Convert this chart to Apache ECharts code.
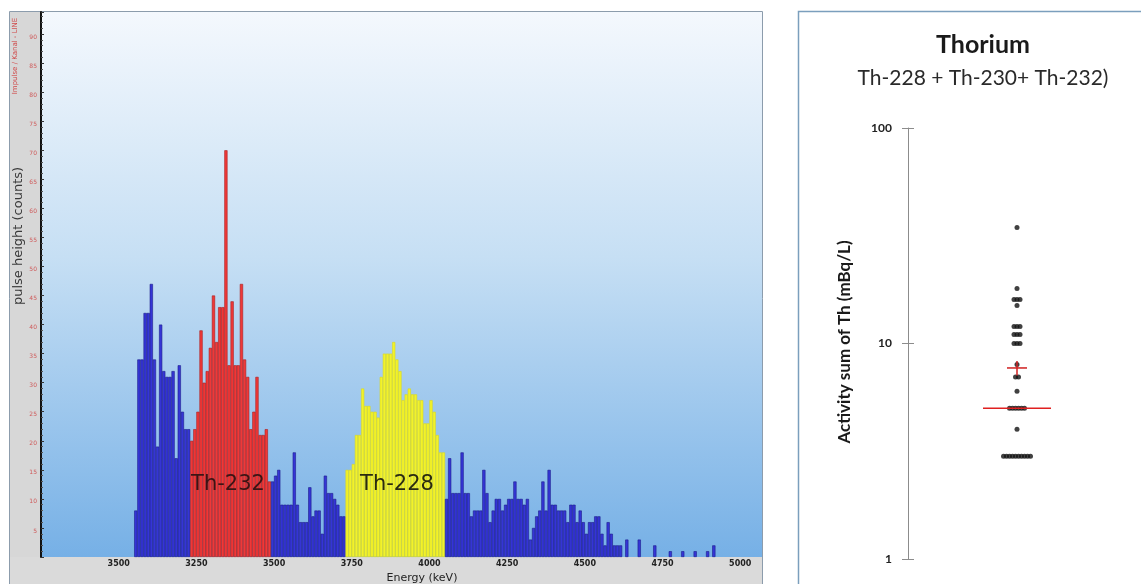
<!DOCTYPE html>
<html><head><meta charset="utf-8">
<script src="https://cdn.jsdelivr.net/npm/echarts@6/dist/echarts.min.js"></script>
<style>html,body{margin:0;padding:0;background:#fff}#c{width:1141px;height:584px}</style>
</head><body><div id="c"></div>
<script>
// ---------- data: alpha spectrum (counts per 10 keV bin) ----------
const spectrumStartKeV = 3050;
const binWidthKeV = 10;
const blueLowCounts = [8,34,34,42,42,47,34,19,40,32,31,31,32,17,33,25,22,22];
const th232Counts   = [20,22,25,39,30,32,36,45,37,43,43,70,33,44,33,33,47,34,31,22,25,31,21,21,22,13];
const blueMidCounts = [13,14,15,9,9,9,9,18,9,6,6,6,12,7,8,8,4,14,11,11,10,9,7,7];
const th228Counts   = [15,15,16,21,21,29,26,26,25,25,24,31,35,35,35,37,34,32,27,28,29,28,28,27,27,23,23,27,25,21,18,18];
const blueHighCounts = [10,17,11,11,11,18,11,11,7,8,8,8,15,11,6,8,10,10,8,9,10,10,13,10,10,9,10,3,5,7,8,13,8,15,9,9,8,8,8,6,9,9,6,8,6,4,6,6,7,7,4,2,6,4,2,2,2,
  0,3,0,0,0,3,0,0,0,0,2,0,0,0,0,1,0,0,0,1,0,0,0,1,0,0,0,1,0,2];
const xTickValues = [3000,3250,3500,3750,4000,4250,4500,4750,5000];
const xTickLabels = ['3500','3250','3500','3750','4000','4250','4500','4750','5000'];

// ---------- data: thorium activity (mBq/L) ----------
const thActivity = [34.5,18,16,16,16,15,12,12,12,11,11,11,10,10,10,8,7,7,6,5,5,5,5,5,5,4,3,3,3,3,3,3,3,3,3,3];
const thMedian = 5.0;
const thMean = 7.7;
const thMeanErrLow = 7.1;
const thMeanErrHigh = 8.3;
const logTickLabels = {1:'1', 10:'10', 100:'100'};

// ---------- build ----------
const blueStyle = {fill:'#3535d6', edge:'#1d1d8c'};
const regionStyles = [blueStyle, {fill:'#f03838', edge:'#a82020'}, blueStyle, {fill:'#f2f22a', edge:'#d6d624'}, blueStyle];
const regionCounts = [blueLowCounts, th232Counts, blueMidCounts, th228Counts, blueHighCounts];
const barData = [];
let k = 0;
regionCounts.forEach((arr, r) => arr.forEach(c => {
  if (c > 0) barData.push({value:[spectrumStartKeV + binWidthKeV*(k+0.5), c],
    itemStyle:{color:regionStyles[r].fill, borderColor:regionStyles[r].edge}});
  k++;
}));

const groupN = {}; thActivity.forEach(v => groupN[v] = (groupN[v]||0)+1);
const seen = {};
const scatterData = thActivity.map(v => {
  seen[v] = seen[v] === undefined ? 0 : seen[v] + 1;
  return {value:[1, v], symbolOffset:[(seen[v] - (groupN[v]-1)/2) * 3, 0]};
});

const chart = echarts.init(document.getElementById('c'), null, {renderer:'canvas'});
const bg = new echarts.graphic.LinearGradient(0,0,0,1,[
  {offset:0, color:'#f4f8fd'},{offset:0.45, color:'#c6dff4'},{offset:1, color:'#76b0e6'}]);

chart.setOption({
  animation:false,
  grid:[
    {left:41, right:379, top:12, bottom:27, show:true, backgroundColor:bg, borderWidth:0},
    {left:908, right:15, top:128, bottom:25}
  ],
  xAxis:[
    {gridIndex:0, type:'value', min:2750, max:5070, interval:250,
     axisLine:{show:false}, axisTick:{show:false}, splitLine:{show:false},
     axisLabel:{margin:3, fontSize:8, fontWeight:'bold', fontFamily:'DejaVu Sans', color:'#222',
       formatter: v => { const i = xTickValues.indexOf(v); return i >= 0 ? xTickLabels[i] : ''; }}},
    {gridIndex:1, type:'value', min:0, max:2, show:false}
  ],
  yAxis:[
    {gridIndex:0, type:'value', min:0, max:93.8, interval:5,
     axisLine:{show:true, lineStyle:{color:'#111', width:2}},
     axisTick:{show:true, inside:true, length:3, lineStyle:{color:'#333'}},
     minorTick:{show:true, splitNumber:5, length:2, lineStyle:{color:'#555'}},
     splitLine:{show:false},
     axisLabel:{fontSize:6, color:'#cf5a5a', margin:4, verticalAlign:'top', fontFamily:'DejaVu Sans',
       formatter: v => (v > 0 && v <= 90 && v % 5 === 0) ? String(v) : ''}},
    {gridIndex:1, type:'log', logBase:10, min:1, max:100, position:'left',
     axisLine:{show:true, lineStyle:{color:'#8c8c8c', width:1}},
     axisTick:{show:true, length:6, lineStyle:{color:'#8c8c8c'}},
     splitLine:{show:false},
     axisLabel:{margin:16, fontSize:12, fontWeight:'bold', fontFamily:'Lato', color:'#222',
       formatter: v => logTickLabels[Math.round(v)] || ''}},
    {gridIndex:1, type:'log', logBase:10, min:1, max:100, position:'left', offset:0,
     axisLine:{show:false}, axisLabel:{show:false}, splitLine:{show:false},
     axisTick:{show:true, inside:true, length:6, lineStyle:{color:'#8c8c8c'}}}
  ],
  series:[
    {type:'bar', xAxisIndex:0, yAxisIndex:0, data:barData, barWidth:3.2,
     itemStyle:{borderWidth:0.6}, silent:true},
    {type:'scatter', xAxisIndex:1, yAxisIndex:1, data:scatterData, symbolSize:5,
     itemStyle:{color:'#111'}, silent:true, z:3},
    {type:'custom', xAxisIndex:1, yAxisIndex:1, data:[[1, thMedian]], z:4, silent:true,
     renderItem:(params, api) => { const p = api.coord([1, thMedian]);
       return {type:'line', shape:{x1:p[0]-34, y1:p[1], x2:p[0]+34, y2:p[1]}, style:{stroke:'#e02020', lineWidth:1.5}}; }},
    {type:'custom', xAxisIndex:1, yAxisIndex:1, data:[[1, thMean]], z:4, silent:true,
     renderItem:(params, api) => { const p = api.coord([1, thMean]);
       const lo = api.coord([1, thMeanErrLow]), hi = api.coord([1, thMeanErrHigh]);
       return {type:'group', children:[
         {type:'line', shape:{x1:p[0]-10, y1:p[1], x2:p[0]+10, y2:p[1]}, style:{stroke:'#d02020', lineWidth:1.5}},
         {type:'line', shape:{x1:p[0], y1:hi[1], x2:p[0], y2:lo[1]}, style:{stroke:'#d02020', lineWidth:1.5}}]}; }}
  ],
  graphic:[
    {type:'rect', z:-10, shape:{x:9.5, y:11.5, width:753, height:600}, style:{fill:'#ffffff', stroke:'#8c9cac', lineWidth:1}},
    {type:'rect', z:-9, shape:{x:10, y:12, width:30, height:572}, style:{fill:'#d7d7d7'}},
    {type:'rect', z:-9, shape:{x:10, y:557, width:752, height:27}, style:{fill:'#dadada'}},
    {type:'rect', z:-10, shape:{x:798.5, y:11.5, width:400, height:600}, style:{fill:'#ffffff', stroke:'#7b9fbd', lineWidth:1.5}},
    {type:'text', z:10, x:15.5, y:56, rotation:Math.PI/2,
     style:{text:'Impulse / Kanal - LINE', font:'7px "DejaVu Sans"', fill:'#d04848', align:'center', verticalAlign:'middle'}},
    {type:'text', z:10, x:19, y:236, rotation:Math.PI/2,
     style:{text:'pulse height (counts)', font:'13px "DejaVu Sans"', fill:'#3a3a3a', align:'center', verticalAlign:'middle'}},
    {type:'text', z:10, x:422, y:578,
     style:{text:'Energy (keV)', font:'11px "DejaVu Sans"', fill:'#222', align:'center', verticalAlign:'middle'}},
    {type:'text', z:10, x:228, y:485,
     style:{text:'Th-232', font:'21px "DejaVu Sans"', fill:'#3c1414', align:'center', verticalAlign:'middle'}},
    {type:'text', z:10, x:397, y:485,
     style:{text:'Th-228', font:'21px "DejaVu Sans"', fill:'#2a2a10', align:'center', verticalAlign:'middle'}},
    {type:'text', z:10, x:983, y:45,
     style:{text:'Thorium', font:'bold 25px Lato', fill:'#1a1a1a', align:'center', verticalAlign:'middle'}},
    {type:'text', z:10, x:983, y:78,
     style:{text:'Th-228 + Th-230+ Th-232)', font:'21px Lato', fill:'#2a2a2a', align:'center', verticalAlign:'middle'}},
    {type:'text', z:10, x:845, y:342, rotation:Math.PI/2,
     style:{text:'Activity sum of Th (mBq/L)', font:'bold 17px Lato', fill:'#1a1a1a', align:'center', verticalAlign:'middle'}}
  ]
});
</script></body></html>
